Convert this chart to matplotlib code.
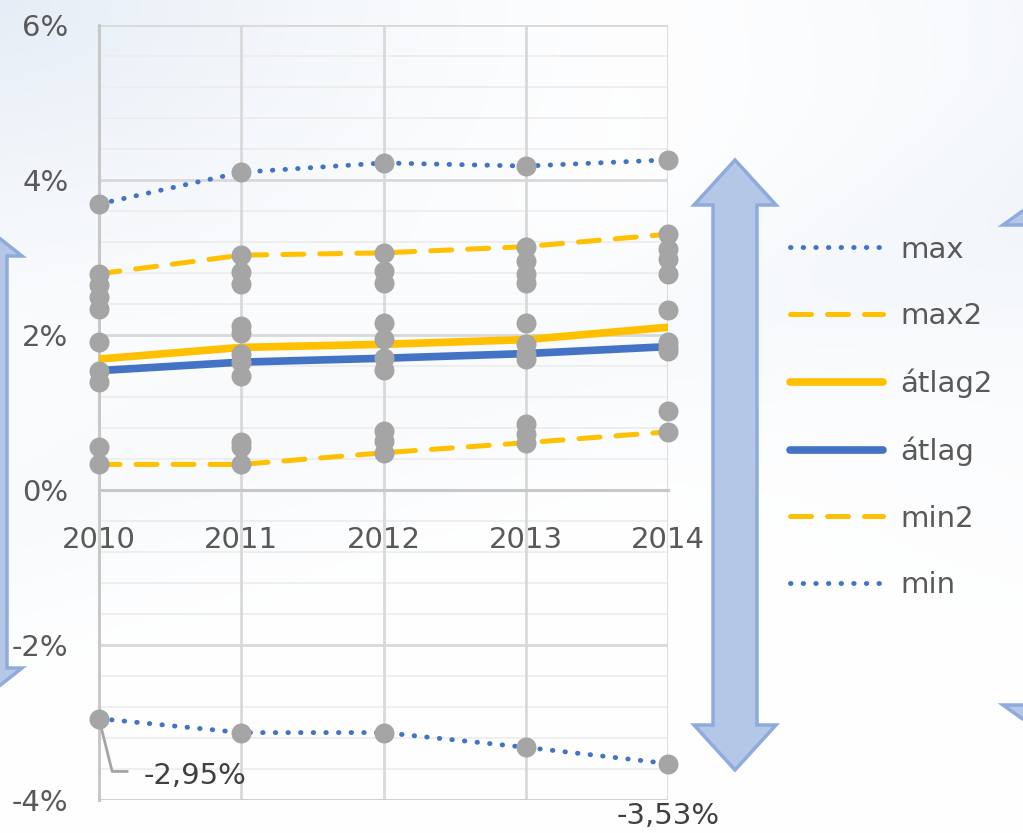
import numpy as np
import matplotlib
matplotlib.use("Agg")
import matplotlib.pyplot as plt
from matplotlib.patches import Polygon
from matplotlib.lines import Line2D

# ---------------- data ----------------
years = [2010, 2011, 2012, 2013, 2014]
s_max = [3.69, 4.10, 4.22, 4.18, 4.26]
s_max2 = [2.79, 3.03, 3.06, 3.14, 3.30]
s_atlag2 = [1.69, 1.84, 1.88, 1.94, 2.10]
s_atlag = [1.54, 1.65, 1.70, 1.76, 1.85]
s_min2 = [0.33, 0.33, 0.48, 0.61, 0.75]
s_min = [-2.95, -3.13, -3.13, -3.32, -3.53]

others_2010 = [2.64, 2.49, 2.34, 1.91, 1.39, 0.56]
others_2011 = [2.81, 2.66, 2.12, 2.03, 1.75, 1.47, 0.62, 0.55]
others_2012 = [2.83, 2.67, 2.16, 1.95, 1.55, 0.76, 0.63]
others_2013 = [2.95, 2.79, 2.67, 2.16, 1.88, 1.69, 0.85, 0.72]
others_2014 = [3.11, 2.98, 2.79, 2.32, 1.91, 1.80, 1.02]
others = [others_2010, others_2011, others_2012, others_2013, others_2014]

y_ticks = [-4, -2, 0, 2, 4, 6]
y_ticklabels = ["-4%", "-2%", "0%", "2%", "4%", "6%"]
label_first = "-2,95%"
label_last = "-3,53%"

BLUE = "#4472C4"
YELLOW = "#FFC000"
GRAY = "#A5A5A5"
TXT = "#595959"
FONT = "DejaVu Sans"

W, H = 1023, 833
fig = plt.figure(figsize=(W / 100, H / 100), dpi=100)

# ---------------- background ----------------
bg = fig.add_axes([0, 0, 1, 1], zorder=-10)
yy, xx = np.mgrid[0:H, 0:W]
xn = xx / W
yn = yy / H
t1 = np.clip(1 - np.hypot(xn * 1.4, yn * 1.7), 0, 1) ** 1.5
band = np.exp(-((yn - (0.62 - 0.35 * xn)) ** 2) / 0.02) * 0.25
t2 = np.clip((xn - 0.6) * 1.5, 0, 1) * np.clip(1 - yn * 1.2, 0, 1) * 0.6
w = np.clip(t1 + band + t2, 0, 1)
base = np.array([1.0, 1.0, 1.0])
tint = np.array([0.90, 0.93, 0.965])
img = base[None, None, :] * (1 - w[..., None]) + tint[None, None, :] * w[..., None]
bg.imshow(img, extent=[0, 1, 0, 1], aspect="auto", origin="upper")
bg.set_axis_off()


def px(x, y):
    return (x / W, 1 - y / H)


def arrow(cx, top, bottom, shaft_half, head_half, head_h):
    pts = [
        (cx, top),
        (cx + head_half, top + head_h),
        (cx + shaft_half, top + head_h),
        (cx + shaft_half, bottom - head_h),
        (cx + head_half, bottom - head_h),
        (cx, bottom),
        (cx - head_half, bottom - head_h),
        (cx - shaft_half, bottom - head_h),
        (cx - shaft_half, top + head_h),
        (cx - head_half, top + head_h),
    ]
    poly = Polygon([px(a, b) for a, b in pts], closed=True, transform=fig.transFigure,
                   facecolor="#B4C7E7", edgecolor="#8FAADC", linewidth=2.5, zorder=1)
    fig.patches.append(poly)


arrow(735, 160, 770, 22, 41, 45)
arrow(-16, 226, 698, 23, 38, 30)
arrow(1045, 195, 735, 16, 42, 30)

# ---------------- main axes ----------------
ax = fig.add_axes([99 / W, 1 - 800 / H, (668 - 99) / W, (800 - 25) / H])
ax.set_facecolor("none")
ax.set_xlim(2010, 2014)
ax.set_ylim(-4, 6)

for v in np.arange(-4, 6.01, 0.4):
    ax.axhline(v, color="#ECECEC", lw=1.2, zorder=0)
for v in y_ticks:
    ax.axhline(v, color="#D9D9D9", lw=2, zorder=0.5)
for yr in years:
    ax.axvline(yr, color="#D9D9D9", lw=2, zorder=0.5)
ax.axhline(-4, color="#D0D0D0", lw=2.2, zorder=0.6)

dotted = (0, (0.1, 2.5))
dashed = (0, (4.2, 3.2))
ax.plot(years, s_max, color=BLUE, lw=3.5, ls=dotted, dash_capstyle="round", zorder=3, label="max")
ax.plot(years, s_max2, color=YELLOW, lw=3.6, ls=dashed, dash_capstyle="round", zorder=3, label="max2")
ax.plot(years, s_atlag2, color=YELLOW, lw=5.5, zorder=3, label="átlag2")
ax.plot(years, s_atlag, color=BLUE, lw=5.5, zorder=3, label="átlag")
ax.plot(years, s_min2, color=YELLOW, lw=3.6, ls=dashed, dash_capstyle="round", zorder=3, label="min2")
ax.plot(years, s_min, color=BLUE, lw=3.5, ls=dotted, dash_capstyle="round", zorder=3, label="min")

for s in [s_max, s_max2, s_atlag, s_min2, s_min]:
    ax.plot(years, s, ls="none", marker="o", ms=14.4, color=GRAY, mec="none", zorder=5, clip_on=False)
for yr, vals in zip(years, others):
    ax.plot([yr] * len(vals), vals, ls="none", marker="o", ms=14.4, color=GRAY, mec="none",
            zorder=5, clip_on=False)

for sp in ["top", "right"]:
    ax.spines[sp].set_visible(False)
ax.spines["left"].set_color("#C8C8C8")
ax.spines["left"].set_linewidth(2.2)
ax.spines["bottom"].set_position(("data", 0))
ax.spines["bottom"].set_color("#C8C8C8")
ax.spines["bottom"].set_linewidth(2.2)
ax.set_xticks(years)
ax.set_xticklabels([str(y) for y in years], fontsize=21, color=TXT, family=FONT)
ax.set_yticks(y_ticks)
ax.set_yticklabels(y_ticklabels, fontsize=21, color=TXT, family=FONT)
ax.tick_params(axis="both", length=0)
ax.tick_params(axis="x", pad=26)
ax.tick_params(axis="y", pad=22)

# data labels
ax.annotate(label_first, xy=(years[0], s_min[0]), xytext=(45, -57), textcoords="offset pixels",
            fontsize=21, color="#404040", family=FONT, ha="left", va="center",
            arrowprops=dict(arrowstyle="-", color="#A5A5A5", lw=2,
                            connectionstyle="angle,angleA=0,angleB=-76,rad=0",
                            relpos=(0, 0.65), shrinkA=10, shrinkB=0), zorder=4)
ax.annotate(label_last, xy=(years[-1], s_min[-1]), xytext=(0, -52), textcoords="offset pixels",
            fontsize=21, color="#404040", family=FONT, ha="center", va="center",
            annotation_clip=False, zorder=6)

# legend
handles = [
    Line2D([], [], color=BLUE, lw=3.5, ls=dotted, dash_capstyle="round"),
    Line2D([], [], color=YELLOW, lw=3.6, ls=dashed, dash_capstyle="round"),
    Line2D([], [], color=YELLOW, lw=5.5, solid_capstyle="round"),
    Line2D([], [], color=BLUE, lw=5.5, solid_capstyle="round"),
    Line2D([], [], color=YELLOW, lw=3.6, ls=dashed, dash_capstyle="round"),
    Line2D([], [], color=BLUE, lw=3.5, ls=dotted, dash_capstyle="round"),
]
labels = ["max", "max2", "átlag2", "átlag", "min2", "min"]
leg = fig.legend(handles, labels, loc="upper left", bbox_to_anchor=px(778, 224),
                 frameon=False, prop={"family": FONT, "size": 21}, handlelength=3.2,
                 handletextpad=0.6, labelspacing=1.32, borderaxespad=0)
for t in leg.get_texts():
    t.set_color(TXT)

fig.savefig("out.png", dpi=100)
